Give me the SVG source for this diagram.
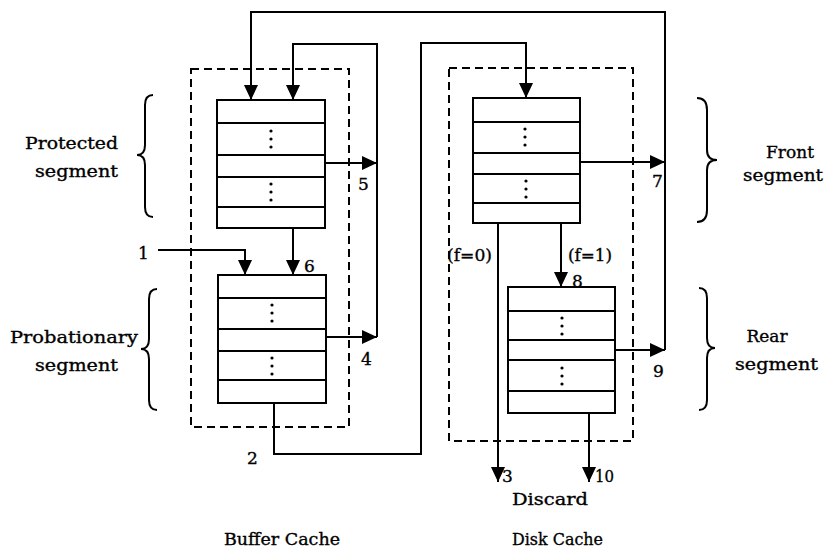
<svg xmlns="http://www.w3.org/2000/svg" width="827" height="548" viewBox="0 0 827 548">
<defs>
<marker id="ah" markerUnits="userSpaceOnUse" markerWidth="16" markerHeight="14" refX="15" refY="7" orient="auto">
<path d="M0,0 L15,7 L0,14 z" fill="#000"/>
</marker>
</defs>
<style>
.t{font-family:"DejaVu Serif","Liberation Serif",serif;font-size:17px;fill:#000;stroke:#000;stroke-width:0.35}
.n{font-family:"DejaVu Serif","Liberation Serif",serif;font-size:17px;fill:#000;stroke:#000;stroke-width:0.35}
.box{fill:#fff;stroke:#000;stroke-width:2}
.row{stroke:#000;stroke-width:2}
.dash{fill:none;stroke:#000;stroke-width:2;stroke-dasharray:8 5}
.ca{fill:none;stroke:#000;stroke-width:2;marker-end:url(#ah)}
.br{fill:none;stroke:#000;stroke-width:2}
</style>
<rect width="827" height="548" fill="#fff"/>

<g id="buffer-cache">
<rect class="dash" x="191" y="69" width="158" height="358"/>
</g>
<g id="disk-cache">
<rect class="dash" x="449" y="68" width="184" height="373"/>
</g>

<g id="connectors">
<path class="ca" d="M665,350 L665,12 L251,12 L251,100"/>
<path class="ca" d="M580,162 L665,162"/>
<path class="ca" d="M615,350 L665,350"/>
<path class="ca" d="M377,337 L377,44 L293,44 L293,100"/>
<path class="ca" d="M325,163 L377,163"/>
<path class="ca" d="M326,337 L377,337"/>
<path class="ca" d="M293,228 L293,275"/>
<path class="ca" d="M158,250 L245,250 L245,275"/>
<path class="ca" d="M274,403 L274,454 L421,454 L421,43 L526,43 L526,98"/>
<path class="ca" d="M498,223 L498,482"/>
<path class="ca" d="M561,223 L561,287"/>
<path class="ca" d="M589,413 L589,482"/>
</g>

<g id="protected">
<rect class="box" x="217" y="100" width="108" height="128"/>
<path class="row" d="M217,123 H325 M217,155 H325 M217,177 H325 M217,207 H325"/>
<g fill="#000"><circle cx="271" cy="131" r="1.6"/><circle cx="271" cy="139" r="1.6"/><circle cx="271" cy="147" r="1.6"/><circle cx="271" cy="184" r="1.6"/><circle cx="271" cy="192" r="1.6"/><circle cx="271" cy="200" r="1.6"/></g>
</g>
<g id="probationary">
<rect class="box" x="218" y="275" width="108" height="128"/>
<path class="row" d="M218,298 H326 M218,329 H326 M218,351 H326 M218,380 H326"/>
<g fill="#000"><circle cx="272" cy="305" r="1.6"/><circle cx="272" cy="313" r="1.6"/><circle cx="272" cy="321" r="1.6"/><circle cx="272" cy="358" r="1.6"/><circle cx="272" cy="366" r="1.6"/><circle cx="272" cy="374" r="1.6"/></g>
</g>
<g id="front">
<rect class="box" x="473" y="98" width="107" height="125"/>
<path class="row" d="M473,122 H580 M473,153 H580 M473,174 H580 M473,203 H580"/>
<g fill="#000"><circle cx="525" cy="129" r="1.6"/><circle cx="525" cy="137" r="1.6"/><circle cx="525" cy="145" r="1.6"/><circle cx="526" cy="181" r="1.6"/><circle cx="526" cy="189" r="1.6"/><circle cx="526" cy="197" r="1.6"/></g>
</g>
<g id="rear">
<rect class="box" x="508" y="287" width="107" height="126"/>
<path class="row" d="M508,311 H615 M508,340 H615 M508,360 H615 M508,391 H615"/>
<g fill="#000"><circle cx="562" cy="318" r="1.6"/><circle cx="562" cy="326" r="1.6"/><circle cx="562" cy="334" r="1.6"/><circle cx="562" cy="368" r="1.6"/><circle cx="562" cy="376" r="1.6"/><circle cx="562" cy="384" r="1.6"/></g>
</g>

<g id="braces">
<path class="br" d="M153,95 Q145,95 145,105 L145,145 Q145,155 137,155 Q145,155 145,165 L145,207 Q145,217 153,217"/>
<path class="br" d="M157,289 Q149,289 149,299 L149,339 Q149,349 141,349 Q149,349 149,359 L149,400 Q149,410 157,410"/>
<path class="br" d="M697,98 Q707,98 707,110 L707,150 Q707,160 717,160 Q707,160 707,170 L707,210 Q707,222 697,222"/>
<path class="br" d="M699,288 Q707,288 707,298 L707,338 Q707,348 715,348 Q707,348 707,358 L707,400 Q707,410 699,410"/>
</g>

<g id="labels">
<text class="t" x="25" y="149" textLength="93" lengthAdjust="spacingAndGlyphs">Protected</text>
<text class="t" x="35" y="177" textLength="83" lengthAdjust="spacingAndGlyphs">segment</text>
<text class="t" x="10" y="343" textLength="128" lengthAdjust="spacingAndGlyphs">Probationary</text>
<text class="t" x="35" y="371" textLength="83" lengthAdjust="spacingAndGlyphs">segment</text>
<text class="t" x="790" y="158" text-anchor="middle">Front</text>
<text class="t" x="743" y="181" textLength="80" lengthAdjust="spacingAndGlyphs">segment</text>
<text class="t" x="767" y="342" text-anchor="middle">Rear</text>
<text class="t" x="735" y="370" textLength="83" lengthAdjust="spacingAndGlyphs">segment</text>
<text class="t" x="512" y="505" textLength="76" lengthAdjust="spacingAndGlyphs">Discard</text>
<text class="t" x="224" y="545" textLength="116" lengthAdjust="spacingAndGlyphs">Buffer Cache</text>
<text class="t" x="512" y="545" textLength="91" lengthAdjust="spacingAndGlyphs">Disk Cache</text>
<text class="n" x="138" y="259">1</text>
<text class="n" x="304" y="272">6</text>
<text class="n" x="358" y="190">5</text>
<text class="n" x="361" y="365">4</text>
<text class="n" x="247" y="464">2</text>
<text class="n" x="652" y="187">7</text>
<text class="n" x="653" y="377">9</text>
<text class="n" x="572" y="287">8</text>
<text class="n" x="502" y="482">3</text>
<text class="n" x="595" y="482" textLength="19" lengthAdjust="spacingAndGlyphs">10</text>
<text class="n" x="447" y="261" textLength="45" lengthAdjust="spacingAndGlyphs">(f=0)</text>
<text class="n" x="568" y="261" textLength="44" lengthAdjust="spacingAndGlyphs">(f=1)</text>
</g>
</svg>
